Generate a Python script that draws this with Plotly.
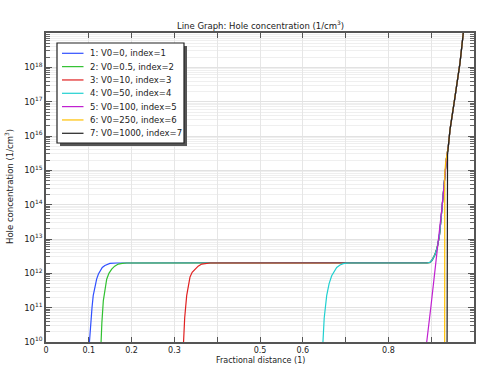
import plotly.graph_objects as go

# ---------------- data ----------------
labels = ["1: V0=0, index=1", "2: V0=0.5, index=2", "3: V0=10, index=3",
          "4: V0=50, index=4", "5: V0=100, index=5", "6: V0=250, index=6",
          "7: V0=1000, index=7"]
colors = ["#3050ff", "#30c030", "#e02020", "#20d0d0", "#c020d0", "#ffc000", "#202020"]

blue_rise_x = [0.0985, 0.1010, 0.1040, 0.1075, 0.1103, 0.1145, 0.1183, 0.1225, 0.1259, 0.1315, 0.1376, 0.1430, 0.1493, 0.1650]
blue_rise_y = [3.16e9, 1.0e10, 3.98e10, 1.0e11, 2.24e11, 4.47e11, 6.76e11, 9.55e11, 1.17e12, 1.48e12, 1.70e12, 1.86e12, 1.95e12, 2.0e12]

green_rise_x = [0.1270, 0.1285, 0.1305, 0.1339, 0.1375, 0.1418, 0.1470, 0.1535, 0.1605, 0.1689, 0.1780, 0.1886]
green_rise_y = [3.16e9, 1.0e10, 3.55e10, 1.58e11, 3.55e11, 6.76e11, 1.0e12, 1.32e12, 1.62e12, 1.86e12, 1.95e12, 2.0e12]

red_rise_x = [0.3195, 0.3208, 0.3240, 0.3287, 0.3325, 0.3364, 0.3415, 0.3481, 0.3555, 0.3638, 0.3730, 0.3832]
red_rise_y = [3.16e9, 1.0e10, 5.01e10, 2.24e11, 4.79e11, 7.76e11, 1.07e12, 1.32e12, 1.62e12, 1.86e12, 1.95e12, 2.0e12]

cyan_rise_x = [0.6450, 0.6465, 0.6500, 0.6558, 0.6615, 0.6675, 0.6733, 0.6792, 0.6870, 0.6946, 0.7020, 0.7103]
cyan_rise_y = [3.16e9, 1.0e10, 5.01e10, 2.24e11, 5.01e11, 8.51e11, 1.17e12, 1.48e12, 1.74e12, 1.91e12, 1.97e12, 2.0e12]

# right-hand rise shared by curves 1-4
right_rise_x = [0.8900, 0.8972, 0.9019, 0.9089, 0.9136, 0.9189, 0.9213, 0.9250, 0.9292, 0.9322, 0.9357]
right_rise_y = [2.0e12, 2.09e12, 2.40e12, 3.55e12, 5.37e12, 1.17e13, 2.29e13, 7.94e13, 2.69e14, 1.0e15, 2.24e15]

magenta_x = [0.8880, 0.8895, 0.8995, 0.9096, 0.9189, 0.9241, 0.9292, 0.9322, 0.9357]
magenta_y = [6.31e9, 1.0e10, 1.12e11, 1.26e12, 1.32e13, 6.17e13, 2.69e14, 1.0e15, 2.24e15]

yellow_x = [0.9315, 0.9317, 0.9335, 0.9360]
yellow_y = [1.0e9, 7.94e14, 1.58e15, 2.51e15]

black_x = [0.9369, 0.9371, 0.9382]
black_y = [1.0e9, 1.58e15, 2.82e15]

# common steep tail at the right edge
tail_x = [0.9400, 0.9439, 0.9556, 0.9673, 0.9750, 0.9850]
tail_y = [5.01e15, 1.51e16, 1.38e17, 1.35e18, 1.0e19, 1.0e20]

series_x = [blue_rise_x + right_rise_x + tail_x,
            green_rise_x + right_rise_x + tail_x,
            red_rise_x + right_rise_x + tail_x,
            cyan_rise_x + right_rise_x + tail_x,
            magenta_x + tail_x,
            yellow_x + tail_x,
            black_x + tail_x]
series_y = [blue_rise_y + right_rise_y + tail_y,
            green_rise_y + right_rise_y + tail_y,
            red_rise_y + right_rise_y + tail_y,
            cyan_rise_y + right_rise_y + tail_y,
            magenta_y + tail_y,
            yellow_y + tail_y,
            black_y + tail_y]

x_tick_vals = [0, 0.1, 0.2, 0.3, 0.4, 0.5, 0.6, 0.7, 0.8, 0.9, 1.0]
x_tick_text = ["0", "0.1", "0.2", "0.3", "", "0.5", "0.6", "", "0.8", "", ""]
y_decades = list(range(10, 20))
y_tick_text = ["10<sup>%d</sup>" % e for e in range(10, 19)] + [""]

title_text = "Line Graph: Hole concentration (1/cm<sup>3</sup>)"
x_title = "Fractional distance (1)"
y_title = "Hole concentration (1/cm<sup>3</sup>)"

# ---------------- figure ----------------
W, H = 479, 366
ML, MR, MT, MB = 46, 5, 33, 24
PW, PH = W - ML - MR, H - MT - MB
FONT = "DejaVu Sans"
FS = 8.5
TXT = "#222"


def px(x):
    return (x - ML) / PW


def py(y):
    return (H - MB - y) / PH


fig = go.Figure()
for xs, ys, c, name in zip(series_x, series_y, colors, labels):
    fig.add_trace(go.Scatter(x=xs, y=ys, mode="lines", name=name,
                             line=dict(color=c, width=1.2), showlegend=False))

minor_vals = [k * 10 ** e for e in range(10, 19) for k in range(2, 10)]

fig.update_layout(
    width=W, height=H,
    margin=dict(l=ML, r=MR, t=MT, b=MB, autoexpand=False),
    paper_bgcolor="white", plot_bgcolor="white",
    font=dict(family=FONT, size=FS, color=TXT),
    xaxis=dict(range=[0, 1], tickmode="array", tickvals=x_tick_vals, ticktext=x_tick_text,
               ticks="inside", ticklen=5, tickcolor="#555", showline=True, linecolor="#555",
               linewidth=1.5, mirror="ticks", showgrid=True, gridcolor="#e6e6e6", gridwidth=1,
               zeroline=False, tickfont=dict(size=8), automargin=False),
    yaxis=dict(type="log", range=[10, 19], tickmode="array",
               tickvals=[10 ** e for e in y_decades], ticktext=y_tick_text,
               ticks="inside", ticklen=6, tickcolor="#555", showline=True, linecolor="#555",
               linewidth=1.5, mirror="ticks", showgrid=True, gridcolor="#e2e2e2", gridwidth=1,
               zeroline=False, tickfont=dict(size=FS), automargin=False,
               minor=dict(tickmode="array", tickvals=minor_vals, ticks="inside", ticklen=4,
                          tickcolor="#666", showgrid=True, gridcolor="#efefef", gridwidth=1)),
)

# titles as annotations at fixed positions
annotations = [
    dict(xref="paper", yref="paper", x=0.5, y=py(25), text=title_text, showarrow=False,
         xanchor="center", yanchor="middle", font=dict(size=FS, color=TXT, family=FONT)),
    dict(xref="paper", yref="paper", x=0.5, y=py(360.5), text=x_title, showarrow=False,
         xanchor="center", yanchor="middle", font=dict(size=8, color=TXT, family=FONT)),
    dict(xref="paper", yref="paper", x=px(9), y=py(187), text=y_title, showarrow=False,
         textangle=-90, xanchor="center", yanchor="middle",
         font=dict(size=FS, color=TXT, family=FONT)),
]

# ---------------- custom legend ----------------
bx0, by0, bx1, by1 = 57, 43, 184, 143
shapes = [
    dict(type="rect", xref="paper", yref="paper", x0=px(bx0 + 3), x1=px(bx1 + 3),
         y0=py(by1 + 3), y1=py(by0 + 3), fillcolor="#555", line=dict(width=0), layer="above"),
    dict(type="rect", xref="paper", yref="paper", x0=px(bx0), x1=px(bx1),
         y0=py(by1), y1=py(by0), fillcolor="white", line=dict(color="#222", width=1.2),
         layer="above"),
]
row0, row_gap = 53.3, 13.33
for i, (c, name) in enumerate(zip(colors, labels)):
    yy = row0 + i * row_gap
    shapes.append(dict(type="line", xref="paper", yref="paper", x0=px(62), x1=px(83.5),
                       y0=py(yy), y1=py(yy), line=dict(color=c, width=1.2), layer="above"))
    annotations.append(dict(xref="paper", yref="paper", x=px(87.5), y=py(yy), text=name,
                            showarrow=False, xanchor="left", yanchor="middle",
                            font=dict(size=FS, color=TXT, family=FONT)))
fig.update_layout(shapes=shapes, annotations=annotations)

fig.write_html("out.html", config={"displayModeBar": False},
               post_script="document.body.style.margin='0';document.body.style.padding='0';")
